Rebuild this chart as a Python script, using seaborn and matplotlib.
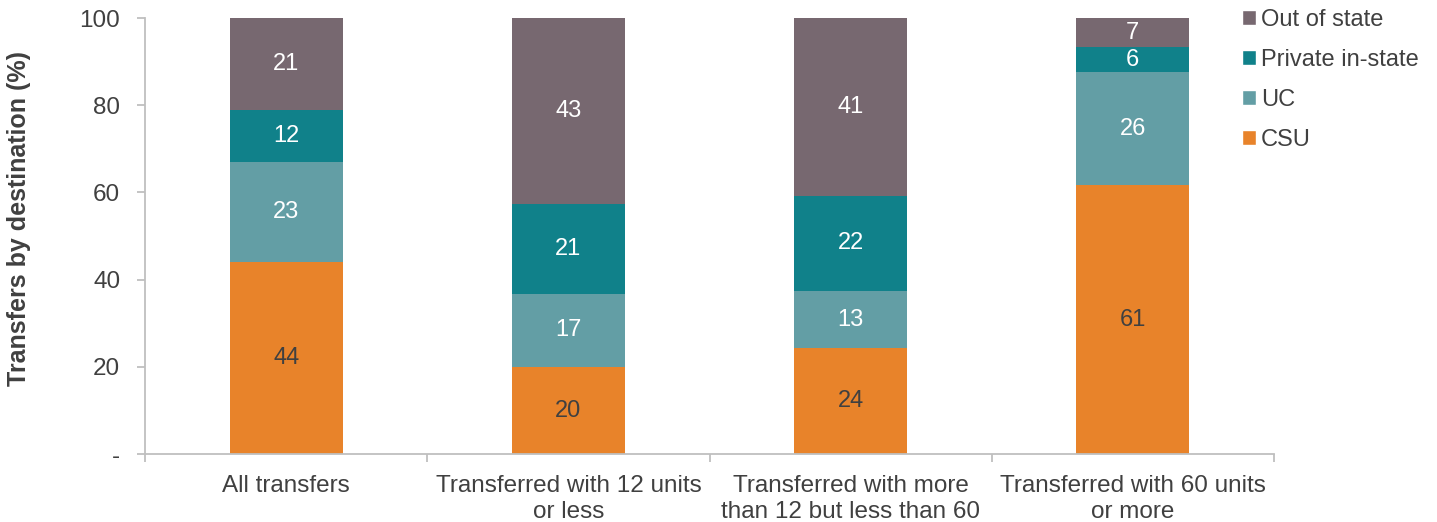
import numpy as np
import matplotlib.pyplot as plt
import pandas as pd
import seaborn as sns
from matplotlib.patches import Patch

categories = ["All transfers", "Transferred with 12 units\nor less",
              "Transferred with more\nthan 12 but less than 60", "Transferred with 60 units\nor more"]
csu = [44.1, 20.0, 24.3, 61.7]
uc = [22.8, 16.7, 13.1, 25.9]
private = [12.0, 20.6, 21.8, 5.7]
out_of_state = [21.1, 42.7, 40.8, 6.7]
csu_labels = ["44", "20", "24", "61"]
uc_labels = ["23", "17", "13", "26"]
private_labels = ["12", "21", "22", "6"]
out_labels = ["21", "43", "41", "7"]

series = ["CSU", "UC", "Private in-state", "Out of state"]
colors = {"CSU": "#E8832A", "UC": "#639EA5", "Private in-state": "#10818A", "Out of state": "#776870"}
text_colors = {"CSU": "#404040", "UC": "white", "Private in-state": "white", "Out of state": "white"}

df = pd.DataFrame({"category": categories, "CSU": csu, "UC": uc,
                   "Private in-state": private, "Out of state": out_of_state})
labels = {"CSU": csu_labels, "UC": uc_labels, "Private in-state": private_labels, "Out of state": out_labels}

sns.set_style("white")
plt.rcParams['font.family'] = ['Liberation Sans', 'DejaVu Sans']

fig = plt.figure(figsize=(14.37, 5.22), dpi=100)
ax = fig.add_axes([0.101, 0.130, 0.7855, 0.8355])

# stacked bars: draw cumulative totals, tallest first
cum = df[series].cumsum(axis=1)
for s in reversed(series):
    sns.barplot(x=df["category"], y=cum[s], color=colors[s], width=0.4,
                saturation=1, linewidth=0, ax=ax)

# segment labels
for s in series:
    bottoms = cum[s] - df[s]
    for i, (b, h) in enumerate(zip(bottoms, df[s])):
        ax.text(i, b + h / 2, labels[s][i], ha="center", va="center",
                color=text_colors[s], fontsize=17)

ax.set_xlim(-0.5, 3.5)
ax.set_ylim(0, 100)
ax.set_yticks([0, 20, 40, 60, 80, 100])
ax.set_yticklabels(["-", "20", "40", "60", "80", "100"])
ax.set_xticks(range(4))
ax.set_xticklabels(categories)
ax.set_xlabel("")
ax.set_ylabel("Transfers by destination (%)", fontsize=18, fontweight="bold", color="#404040")
ax.yaxis.set_label_coords(-0.101, 0.541)

for sp in ["top", "right"]:
    ax.spines[sp].set_visible(False)
for sp in ["left", "bottom"]:
    ax.spines[sp].set_color("#BFBFBF")
    ax.spines[sp].set_linewidth(1.3)

ax.tick_params(axis="y", which="major", direction="out", length=6, width=1.3, color="#BFBFBF",
               labelsize=17.5, labelcolor="#404040", left=True, pad=12)
ax.tick_params(axis="x", which="major", length=0, labelsize=17.5, labelcolor="#404040", pad=15)
ax.set_xticks(np.arange(-0.5, 4.0, 1.0), minor=True)
ax.tick_params(axis="x", which="minor", direction="out", length=6, width=1.3, color="#BFBFBF", bottom=True)
for t in ax.get_xticklabels():
    t.set_linespacing(1.25)

handles = [Patch(facecolor=colors[s], label=s) for s in reversed(series)]
ax.legend(handles=handles, loc="upper left", bbox_to_anchor=(0.972, 1.02), frameon=False,
          fontsize=17, handlelength=0.6, handleheight=0.6, handletextpad=0.2,
          labelspacing=0.76, labelcolor="#404040", borderaxespad=0, borderpad=0)

fig.savefig("out.png", dpi=100)
